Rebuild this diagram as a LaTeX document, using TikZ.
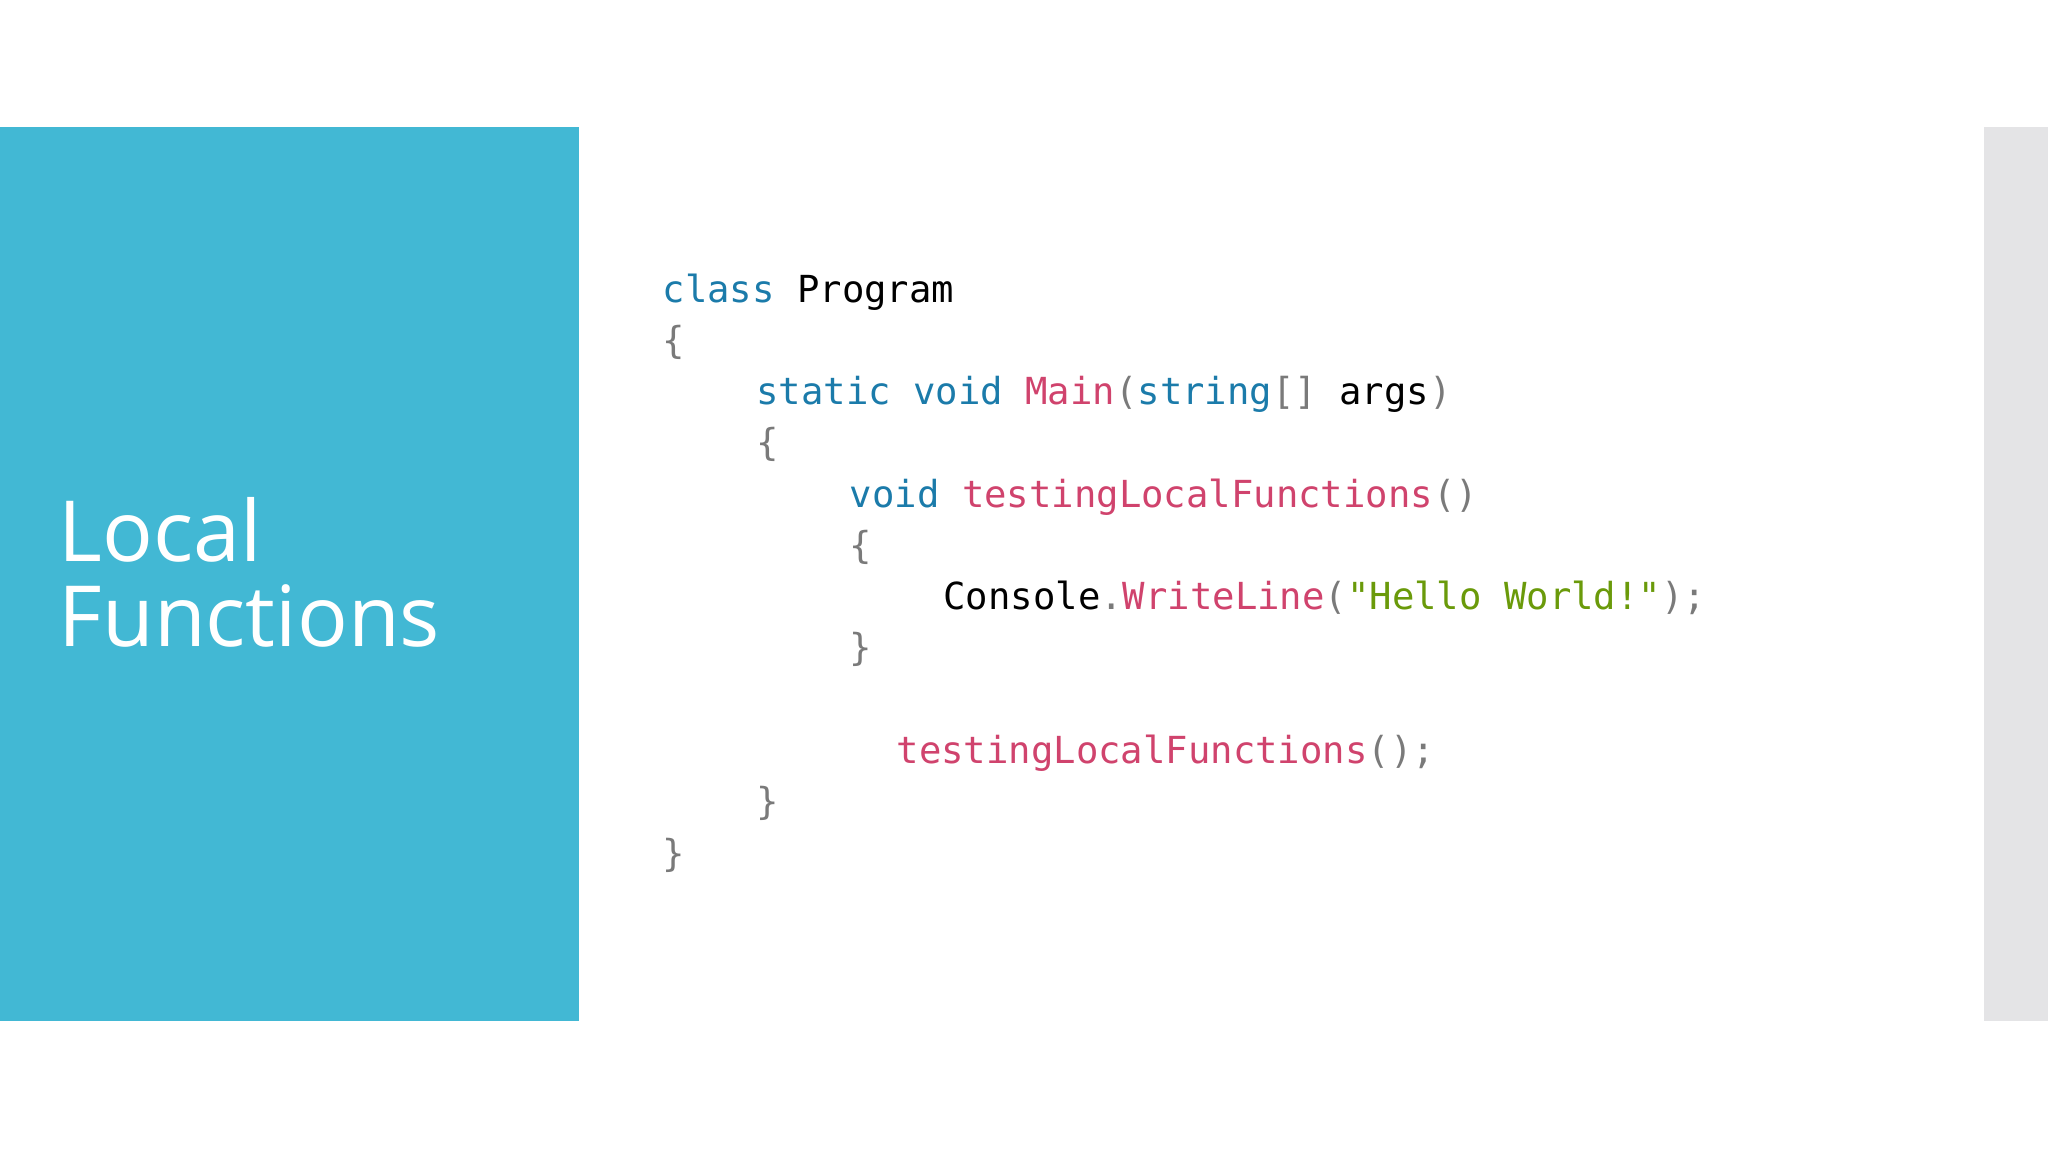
\documentclass[tikz,border=0pt]{standalone}
\usepackage{fontspec}
\setmainfont{Open Sans}
\setmonofont{DejaVu Sans Mono}
\definecolor{panel}{HTML}{42B8D4}
\definecolor{strip}{HTML}{E4E4E6}
\definecolor{kw}{HTML}{1B7BAA}
\definecolor{fn}{HTML}{D0436D}
\definecolor{str}{HTML}{6A9A0A}
\definecolor{pu}{HTML}{7A7A7A}
\newcommand{\K}[1]{\textcolor{kw}{#1}}
\newcommand{\F}[1]{\textcolor{fn}{#1}}
\newcommand{\G}[1]{\textcolor{pu}{#1}}
\newcommand{\Sx}[1]{\textcolor{str}{#1}}
\begin{document}
\begin{tikzpicture}[x=1cm,y=1cm,
  code/.style={anchor=base west,inner sep=0pt,font=\ttfamily\fontsize{10.6}{12}\selectfont}]
\useasboundingbox (0,0) rectangle (20.48,11.52);
\fill[white] (0,0) rectangle (20.48,11.52);
\fill[panel] (0,1.31) rectangle (5.79,10.25);
\fill[strip] (19.84,1.31) rectangle (20.48,10.25);
\node[anchor=base west,inner sep=0pt,text=white,align=left,font=\fontsize{24}{24}\selectfont] (title) at (0.58,5.90) {Local};
\node[anchor=base west,inner sep=0pt,text=white,align=left,font=\fontsize{24}{24}\selectfont] (title2) at (0.58,5.05) {Functions};
\def\cx{6.62}
\def\cw{0.234}
\node[code] (l1) at (\cx,8.49) {\K{class} Program};
\node[code] (l2) at (\cx,7.98) {\G{\{}};
\node[code] (l3) at (\cx+4*\cw,7.47) {\K{static} \K{void} \F{Main}\G{(}\K{string}\G{[]} args\G{)}};
\node[code] (l4) at (\cx+4*\cw,6.96) {\G{\{}};
\node[code] (l5) at (\cx+8*\cw,6.44) {\K{void} \F{testingLocalFunctions}\G{()}};
\node[code] (l6) at (\cx+8*\cw,5.93) {\G{\{}};
\node[code] (l7) at (\cx+12*\cw,5.42) {Console\G{.}\F{WriteLine}\G{(}\Sx{"Hello World!"}\G{);}};
\node[code] (l8) at (\cx+8*\cw,4.91) {\G{\}}};
\node[code] (l9) at (\cx+10*\cw,3.88) {\F{testingLocalFunctions}\G{();}};
\node[code] (l10) at (\cx+4*\cw,3.37) {\G{\}}};
\node[code] (l11) at (\cx,2.85) {\G{\}}};
\end{tikzpicture}
\end{document}
